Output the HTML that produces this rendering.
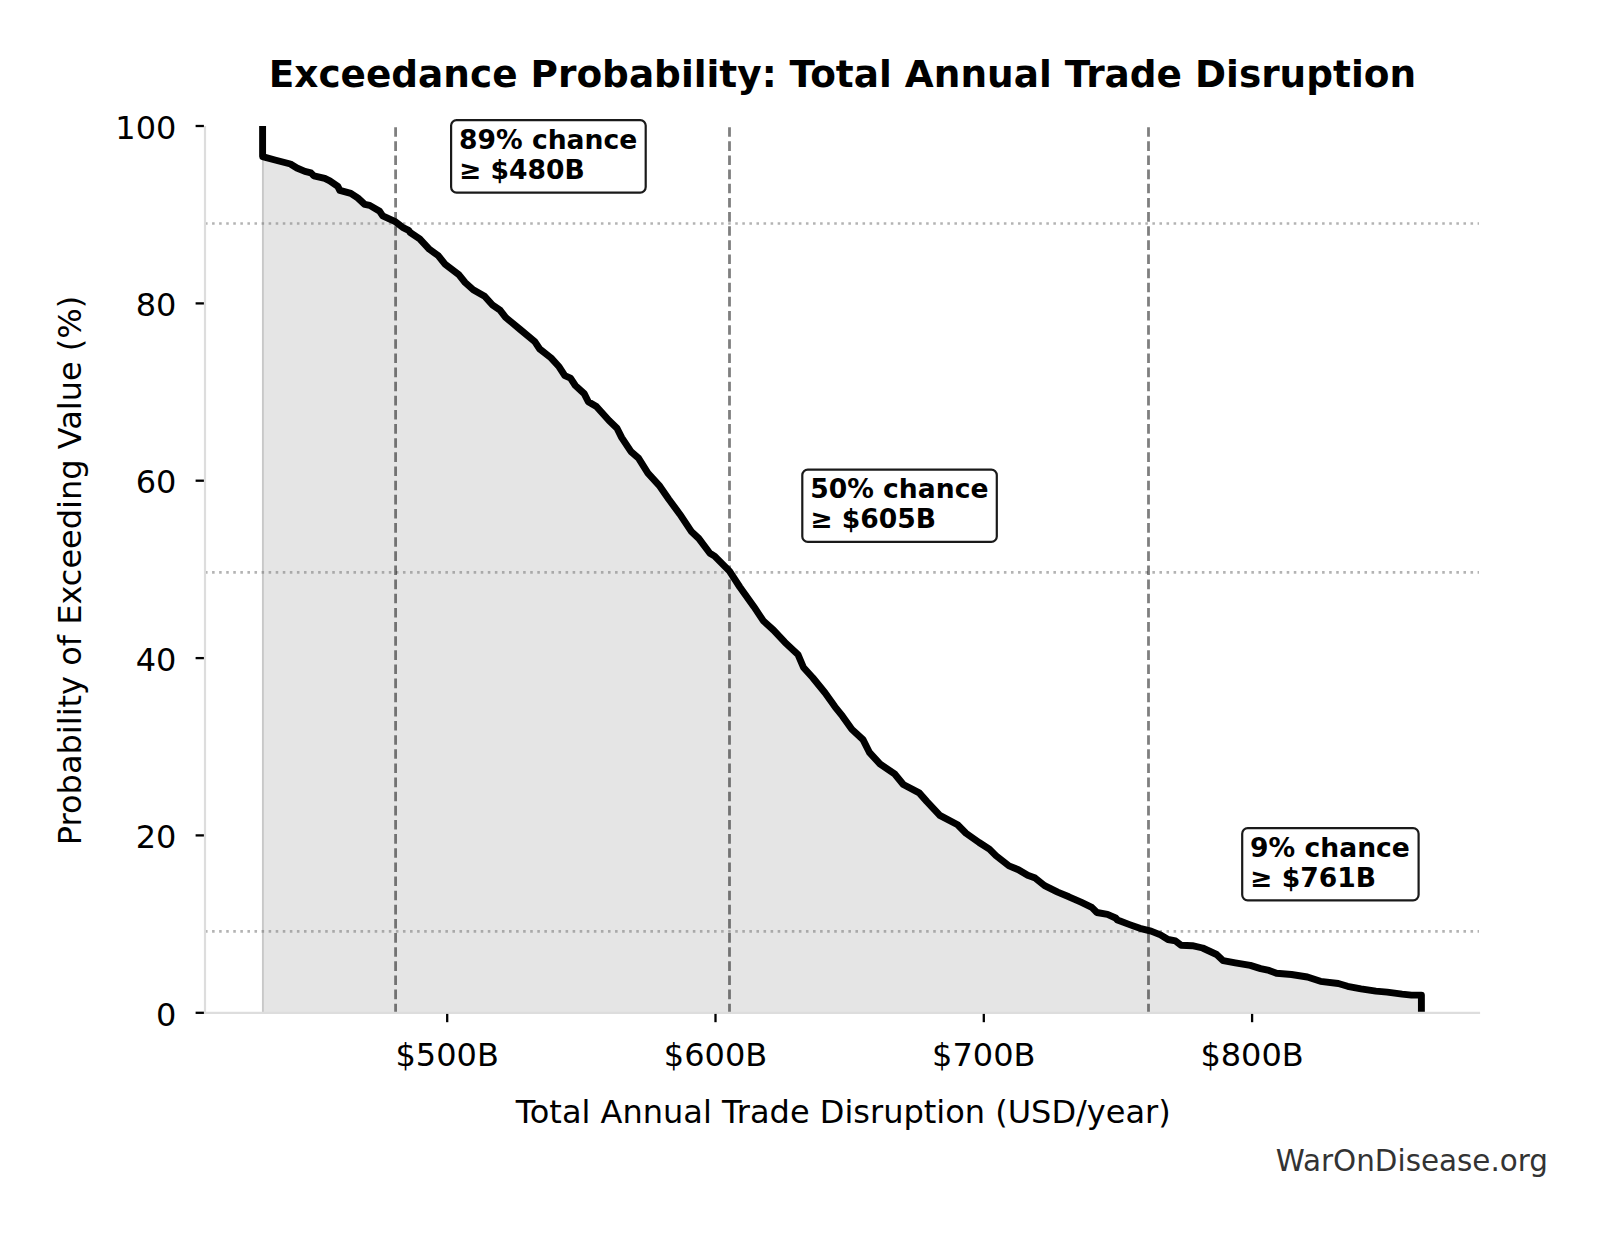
<!DOCTYPE html>
<html lang="en"><head><meta charset="utf-8">
<title>Exceedance Probability: Total Annual Trade Disruption</title>
<style>
html,body{margin:0;padding:0;background:#fff;}
body{width:1604px;height:1234px;overflow:hidden;}
svg{display:block;}
text{font-family:"DejaVu Sans","Liberation Sans",sans-serif;font-stretch:normal;fill:#000;}
.tick{font-size:32px;}
.b{font-weight:bold;}
.ann{font-size:26.6px;font-weight:bold;}
</style></head><body>
<svg width="1604" height="1234" viewBox="0 0 1604 1234">
<rect width="1604" height="1234" fill="#fff"/>
<polygon points="262.6,156.6 275.0,160.0 290.4,164.0 296.9,168.0 304.9,171.4 310.9,172.9 313.9,175.9 324.8,178.4 329.8,180.9 337.8,186.4 339.8,190.4 350.8,193.4 357.7,197.9 364.7,204.4 369.7,205.4 379.7,211.3 382.7,215.8 394.7,221.3 402.6,227.3 408.6,230.3 410.0,232.3 419.7,238.8 429.4,249.3 438.4,255.8 444.8,263.9 458.6,274.4 465.1,282.5 473.2,289.8 484.6,296.3 492.7,305.2 500.0,310.1 505.6,317.4 520.2,329.5 534.8,341.7 539.7,349.0 551.0,357.9 559.1,366.8 564.8,375.7 570.5,378.2 575.3,385.5 584.2,393.6 588.3,401.7 596.4,406.5 609.0,420.5 617.0,428.2 621.7,437.6 631.0,451.6 638.5,458.2 647.9,473.1 659.1,485.3 668.6,499.0 679.8,514.2 691.6,531.8 698.7,538.4 709.9,553.3 714.6,556.1 729.5,571.1 739.8,587.0 753.9,606.7 763.2,620.7 773.5,630.1 784.8,642.2 797.9,654.4 803.5,667.5 812.8,677.8 825.0,692.8 835.0,706.8 842.5,716.2 851.8,729.3 863.0,739.6 869.6,752.7 879.9,763.9 894.9,774.2 903.3,784.5 919.2,792.9 926.7,801.4 939.8,815.4 957.6,824.8 966.0,833.2 979.1,842.5 989.4,849.1 995.9,855.6 1009.0,865.9 1018.4,869.7 1027.7,875.3 1035.2,878.1 1044.6,885.6 1057.7,892.1 1068.9,896.8 1081.0,902.2 1091.8,907.4 1096.9,912.5 1107.5,914.4 1115.6,918.0 1117.5,920.0 1129.6,924.6 1139.9,928.3 1151.1,931.1 1160.5,934.9 1168.0,939.5 1175.5,940.9 1181.1,945.2 1192.3,945.7 1202.6,948.0 1216.6,954.5 1223.2,960.7 1235.3,962.9 1250.3,965.4 1260.6,968.6 1269.0,970.4 1276.5,973.2 1291.5,974.5 1307.4,977.0 1320.5,981.3 1338.3,983.5 1347.6,986.3 1361.0,988.8 1375.9,991.1 1387.2,992.1 1402.1,994.1 1411.5,995.1 1421.4,995.1 1421.4,1012.8 262.6,1012.8" fill="#e5e5e5"/>
<line x1="262.9" y1="157" x2="262.9" y2="1012.8" stroke="#c8c8c8" stroke-width="1.9"/>
<line x1="205.0" y1="223.5" x2="1479.0" y2="223.5" stroke="#808080" stroke-opacity="0.6" stroke-width="2.7" stroke-dasharray="2.55,4.52"/>
<line x1="205.0" y1="572.4" x2="1479.0" y2="572.4" stroke="#808080" stroke-opacity="0.6" stroke-width="2.7" stroke-dasharray="2.55,4.52"/>
<line x1="205.0" y1="931.3" x2="1479.0" y2="931.3" stroke="#808080" stroke-opacity="0.6" stroke-width="2.7" stroke-dasharray="2.55,4.52"/>
<line x1="395.6" y1="127.2" x2="395.6" y2="1012.8" stroke="#000" stroke-opacity="0.5" stroke-width="2.8" stroke-dasharray="9.6,4.538"/>
<line x1="729.5" y1="127.2" x2="729.5" y2="1012.8" stroke="#000" stroke-opacity="0.5" stroke-width="2.8" stroke-dasharray="9.6,4.538"/>
<line x1="1148.5" y1="127.2" x2="1148.5" y2="1012.8" stroke="#000" stroke-opacity="0.5" stroke-width="2.8" stroke-dasharray="9.6,4.538"/>
<polyline points="262.6,126.0 262.6,156.6 275.0,160.0 290.4,164.0 296.9,168.0 304.9,171.4 310.9,172.9 313.9,175.9 324.8,178.4 329.8,180.9 337.8,186.4 339.8,190.4 350.8,193.4 357.7,197.9 364.7,204.4 369.7,205.4 379.7,211.3 382.7,215.8 394.7,221.3 402.6,227.3 408.6,230.3 410.0,232.3 419.7,238.8 429.4,249.3 438.4,255.8 444.8,263.9 458.6,274.4 465.1,282.5 473.2,289.8 484.6,296.3 492.7,305.2 500.0,310.1 505.6,317.4 520.2,329.5 534.8,341.7 539.7,349.0 551.0,357.9 559.1,366.8 564.8,375.7 570.5,378.2 575.3,385.5 584.2,393.6 588.3,401.7 596.4,406.5 609.0,420.5 617.0,428.2 621.7,437.6 631.0,451.6 638.5,458.2 647.9,473.1 659.1,485.3 668.6,499.0 679.8,514.2 691.6,531.8 698.7,538.4 709.9,553.3 714.6,556.1 729.5,571.1 739.8,587.0 753.9,606.7 763.2,620.7 773.5,630.1 784.8,642.2 797.9,654.4 803.5,667.5 812.8,677.8 825.0,692.8 835.0,706.8 842.5,716.2 851.8,729.3 863.0,739.6 869.6,752.7 879.9,763.9 894.9,774.2 903.3,784.5 919.2,792.9 926.7,801.4 939.8,815.4 957.6,824.8 966.0,833.2 979.1,842.5 989.4,849.1 995.9,855.6 1009.0,865.9 1018.4,869.7 1027.7,875.3 1035.2,878.1 1044.6,885.6 1057.7,892.1 1068.9,896.8 1081.0,902.2 1091.8,907.4 1096.9,912.5 1107.5,914.4 1115.6,918.0 1117.5,920.0 1129.6,924.6 1139.9,928.3 1151.1,931.1 1160.5,934.9 1168.0,939.5 1175.5,940.9 1181.1,945.2 1192.3,945.7 1202.6,948.0 1216.6,954.5 1223.2,960.7 1235.3,962.9 1250.3,965.4 1260.6,968.6 1269.0,970.4 1276.5,973.2 1291.5,974.5 1307.4,977.0 1320.5,981.3 1338.3,983.5 1347.6,986.3 1361.0,988.8 1375.9,991.1 1387.2,992.1 1402.1,994.1 1411.5,995.1 1421.4,995.1 1421.4,1012.8" fill="none" stroke="#000" stroke-width="6.9" stroke-linejoin="round" stroke-linecap="butt"/>
<line x1="205.0" y1="126.0" x2="205.0" y2="1013.9" stroke="#dddddd" stroke-width="2.2"/>
<line x1="203.9" y1="1012.8" x2="1480.1" y2="1012.8" stroke="#dddddd" stroke-width="2.2"/>
<line x1="195.6" y1="1012.8" x2="203.9" y2="1012.8" stroke="#000" stroke-width="2.3"/>
<text class="tick" x="176.4" y="1026.4" text-anchor="end">0</text>
<line x1="195.6" y1="835.4" x2="203.9" y2="835.4" stroke="#000" stroke-width="2.3"/>
<text class="tick" x="176.4" y="848.0" text-anchor="end">20</text>
<line x1="195.6" y1="658.1" x2="203.9" y2="658.1" stroke="#000" stroke-width="2.3"/>
<text class="tick" x="176.4" y="670.7" text-anchor="end">40</text>
<line x1="195.6" y1="480.7" x2="203.9" y2="480.7" stroke="#000" stroke-width="2.3"/>
<text class="tick" x="176.4" y="493.3" text-anchor="end">60</text>
<line x1="195.6" y1="303.4" x2="203.9" y2="303.4" stroke="#000" stroke-width="2.3"/>
<text class="tick" x="176.4" y="316.0" text-anchor="end">80</text>
<line x1="195.6" y1="126.0" x2="203.9" y2="126.0" stroke="#000" stroke-width="2.3"/>
<text class="tick" x="176.4" y="138.6" text-anchor="end">100</text>
<line x1="447.2" y1="1013.9" x2="447.2" y2="1022.2" stroke="#000" stroke-width="2.3"/>
<text class="tick" x="447.2" y="1065.6" text-anchor="middle">$500B</text>
<line x1="715.5" y1="1013.9" x2="715.5" y2="1022.2" stroke="#000" stroke-width="2.3"/>
<text class="tick" x="715.5" y="1065.6" text-anchor="middle">$600B</text>
<line x1="983.8" y1="1013.9" x2="983.8" y2="1022.2" stroke="#000" stroke-width="2.3"/>
<text class="tick" x="983.8" y="1065.6" text-anchor="middle">$700B</text>
<line x1="1252.1" y1="1013.9" x2="1252.1" y2="1022.2" stroke="#000" stroke-width="2.3"/>
<text class="tick" x="1252.1" y="1065.6" text-anchor="middle">$800B</text>
<text class="b" x="842.4" y="86.7" text-anchor="middle" font-size="37.42">Exceedance Probability: Total Annual Trade Disruption</text>
<text class="tick" x="843.2" y="1122.9" text-anchor="middle">Total Annual Trade Disruption (USD/year)</text>
<text class="tick" transform="translate(81,570.5) rotate(-90)" text-anchor="middle">Probability of Exceeding Value (%)</text>
<text x="1548" y="1170.5" text-anchor="end" font-size="29.4" style="fill:#333">WarOnDisease.org</text>
<rect x="451.1" y="120.1" width="194.6" height="72.5" rx="5.5" ry="5.5" fill="#fff" fill-opacity="0.92" stroke="#1a1a1a" stroke-width="2.2"/>
<text class="ann" x="459.0" y="149.4">89% chance</text>
<text class="ann" x="459.0" y="178.7">≥ $480B</text>
<rect x="802.3" y="469.6" width="194.5" height="72.3" rx="5.5" ry="5.5" fill="#fff" fill-opacity="0.92" stroke="#1a1a1a" stroke-width="2.2"/>
<text class="ann" x="810.2" y="498.3">50% chance</text>
<text class="ann" x="810.2" y="528.0">≥ $605B</text>
<rect x="1242.2" y="828.2" width="176.4" height="72.1" rx="5.5" ry="5.5" fill="#fff" fill-opacity="0.92" stroke="#1a1a1a" stroke-width="2.2"/>
<text class="ann" x="1250.1" y="857.1">9% chance</text>
<text class="ann" x="1250.1" y="887.1">≥ $761B</text>
</svg>
</body></html>
